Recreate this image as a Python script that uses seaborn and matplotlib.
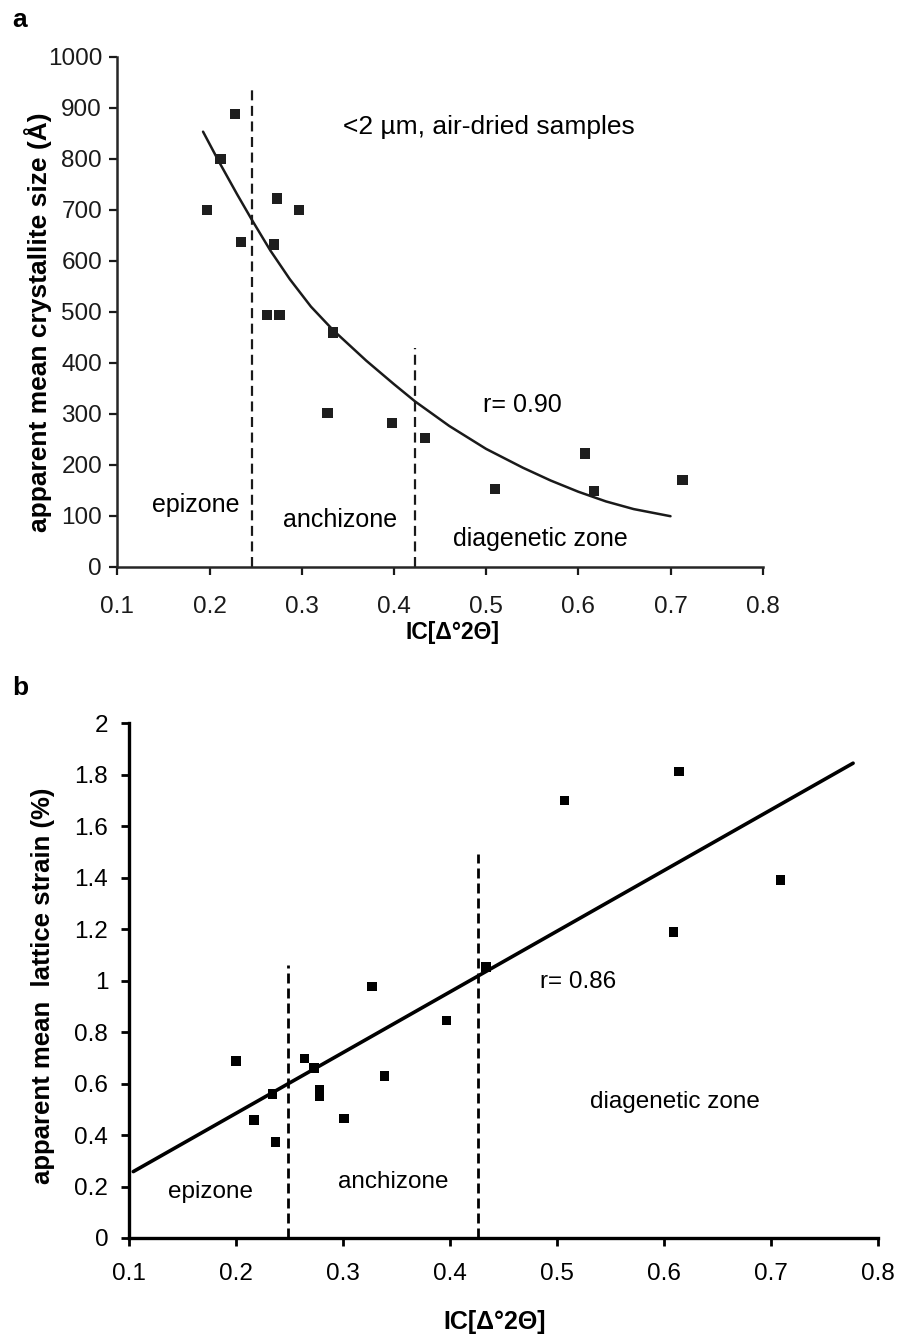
"""
plot.py
Illite crystallite size (a) and lattice strain (b) against the Kübler index IC.
Saves out.png (905 x 1336 px).
"""

import matplotlib.pyplot as plt
import seaborn as sns

sns.set_style("ticks")
plt.rcParams["font.family"] = ["Liberation Sans", "DejaVu Sans"]
plt.rcParams["axes.linewidth"] = 1.8
plt.rcParams["text.color"] = "black"
plt.rcParams["axes.labelcolor"] = "black"

# ---- panel a: crystallite size ----
ic_a = [0.197, 0.212, 0.228, 0.234, 0.262, 0.276, 0.270, 0.273, 0.297,
        0.334, 0.328, 0.398, 0.434, 0.510, 0.607, 0.617, 0.713]
size_a = [700, 800, 888, 636, 494, 494, 632, 722, 700,
          459, 301, 282, 252, 152, 222, 149, 170]
# trend curve
curve_ic = [0.193, 0.210, 0.230, 0.246, 0.266, 0.287, 0.310, 0.334, 0.370,
            0.400, 0.423, 0.460, 0.500, 0.540, 0.570, 0.600, 0.630, 0.660, 0.700]
curve_size = [853, 795, 730, 680, 620, 564, 510, 464, 404,
              358, 324, 276, 231, 194, 169, 147, 128, 113, 99]
zone_ic_a = [0.246, 0.423]
zone_top_a = [938, 428]
xticks = [0.1, 0.2, 0.3, 0.4, 0.5, 0.6, 0.7, 0.8]
xtick_labels = ["0.1", "0.2", "0.3", "0.4", "0.5", "0.6", "0.7", "0.8"]
yticks_a = [0, 100, 200, 300, 400, 500, 600, 700, 800, 900, 1000]
ytick_labels_a = [str(v) for v in yticks_a]

# ---- panel b: lattice strain ----
ic_b = [0.200, 0.217, 0.234, 0.237, 0.264, 0.273, 0.278, 0.278, 0.301,
        0.327, 0.339, 0.397, 0.434, 0.507, 0.609, 0.614, 0.709]
strain_b = [0.688, 0.459, 0.559, 0.373, 0.697, 0.660, 0.575, 0.550, 0.465,
            0.977, 0.630, 0.845, 1.054, 1.700, 1.190, 1.812, 1.390]
fit_ic = [0.104, 0.777]
fit_strain = [0.258, 1.845]
zone_ic_b = [0.249, 0.4265]
zone_top_b = [1.061, 1.492]
yticks_b = [0, 0.2, 0.4, 0.6, 0.8, 1.0, 1.2, 1.4, 1.6, 1.8, 2.0]
ytick_labels_b = ["0", "0.2", "0.4", "0.6", "0.8", "1", "1.2", "1.4", "1.6", "1.8", "2"]

W, H = 905, 1336
fig = plt.figure(figsize=(W / 100, H / 100), dpi=100)


def px_axes(x0, x1, y_top, y_bottom):
    return fig.add_axes([x0 / W, 1 - y_bottom / H, (x1 - x0) / W, (y_bottom - y_top) / H])


def fig_text(x, y, s, **kw):
    fig.text(x / W, 1 - y / H, s, **kw)


# ---------------- panel a ----------------
ax = px_axes(117.3, 762.7, 56.7, 566.7)
sns.scatterplot(x=ic_a, y=size_a, marker="s", s=55, color="#1e1e1e",
                edgecolor="none", ax=ax, clip_on=False, zorder=3)
sns.lineplot(x=curve_ic, y=curve_size, sort=False, estimator=None,
             color="#1a1a1a", lw=1.8, ax=ax)
ax.vlines(zone_ic_a, 0, zone_top_a, colors="#1a1a1a", lw=1.6,
          linestyles=(0, (4.5, 2.5)))
ax.set_xlim(0.1, 0.8)
ax.set_ylim(0, 1000)
ax.set_xticks(xticks, xtick_labels)
ax.set_yticks(yticks_a, ytick_labels_a)
ax.tick_params(axis="both", direction="out", length=6, width=1.6,
               labelsize=17.5, colors="#1a1a1a")
ax.tick_params(axis="x", pad=15)
ax.tick_params(axis="y", pad=5)
sns.despine(ax=ax)

ax.text(0.345, 863, "<2 \u00b5m, air-dried samples", fontsize=19, va="center")
ax.text(0.497, 317, "r= 0.90", fontsize=18, va="center")
ax.text(0.138, 121, "epizone", fontsize=18, va="center")
ax.text(0.280, 91, "anchizone", fontsize=18, va="center")
ax.text(0.464, 54, "diagenetic zone", fontsize=18, va="center")

fig_text(20, 20, "a", fontsize=19, fontweight="bold", ha="center", va="center")
fig_text(38, 322, "apparent mean crystallite size (\u00c5)", fontsize=19,
         fontweight="bold", rotation=90, ha="center", va="center")
fig_text(452, 632, "IC[\u0394\u00b02\u0398]", fontsize=16.5, fontweight="bold",
         ha="center", va="center")

# ---------------- panel b ----------------
ax = px_axes(129, 877.7, 723.3, 1238)
sns.scatterplot(x=ic_b, y=strain_b, marker="s", s=48, color="black",
                edgecolor="none", ax=ax, clip_on=False, zorder=3)
sns.lineplot(x=fit_ic, y=fit_strain, sort=False, estimator=None,
             color="black", lw=2.6, ax=ax)
ax.vlines(zone_ic_b, 0, zone_top_b, colors="black", lw=2.0,
          linestyles=(0, (3.6, 1.8)))
ax.set_xlim(0.1, 0.8)
ax.set_ylim(0, 2)
ax.set_xticks(xticks, xtick_labels)
ax.set_yticks(yticks_b, ytick_labels_b)
for side in ("left", "bottom"):
    ax.spines[side].set_linewidth(2.4)
    ax.spines[side].set_color("black")
ax.tick_params(axis="both", direction="out", length=6, width=2.0,
               labelsize=17.5, colors="black")
ax.tick_params(axis="x", pad=12)
ax.tick_params(axis="y", pad=9)
sns.despine(ax=ax)

ax.text(0.484, 0.996, "r= 0.86", fontsize=17.5, va="center")
ax.text(0.136, 0.179, "epizone", fontsize=17.5, va="center")
ax.text(0.2956, 0.219, "anchizone", fontsize=17.5, va="center")
ax.text(0.531, 0.53, "diagenetic zone", fontsize=17.5, va="center")

fig_text(20, 688, "b", fontsize=19, fontweight="bold", ha="center", va="center")
fig_text(43, 986, "apparent mean  lattice strain (%)", fontsize=18.5,
         fontweight="bold", rotation=90, ha="center", va="center")
fig_text(495, 1322, "IC[\u0394\u00b02\u0398]", fontsize=18, fontweight="bold",
         ha="center", va="center")

fig.savefig("out.png", dpi=100)
